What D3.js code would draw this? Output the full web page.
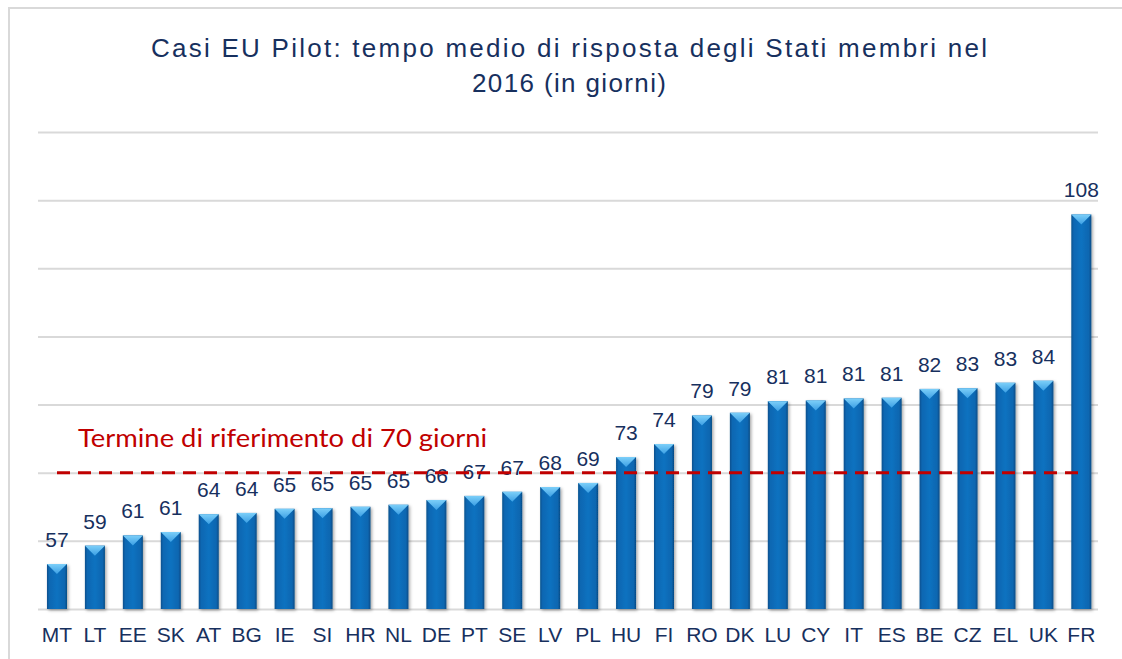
<!DOCTYPE html>
<html>
<head>
<meta charset="utf-8">
<script src="https://cdn.jsdelivr.net/npm/d3@7"></script>
<style>
  html, body { margin: 0; padding: 0; background: #fff; }
  svg { display: block; }
</style>
</head>
<body>
<div id="chart"></div>
<script>
// Stati membri, in ordine crescente
const paesi = ["MT", "LT", "EE", "SK", "AT", "BG", "IE", "SI", "HR", "NL", "DE", "PT", "SE", "LV",
  "PL", "HU", "FI", "RO", "DK", "LU", "CY", "IT", "ES", "BE", "CZ", "EL", "UK", "FR"];

// altezza delle barre (giorni)
const giorni = [56.6, 59.3, 60.8, 61.3, 63.9, 64.1, 64.7, 64.8, 65.0, 65.3, 66.0, 66.6, 67.2, 67.9,
  68.5, 72.3, 74.2, 78.4, 78.8, 80.5, 80.6, 80.9, 81.0, 82.3, 82.4, 83.2, 83.5, 107.9];

// etichette mostrate sopra le barre
const etichette = ["57", "59", "61", "61", "64", "64", "65", "65", "65", "65", "66", "67", "67", "68",
  "69", "73", "74", "79", "79", "81", "81", "81", "81", "82", "83", "83", "84", "108"];

const griglia = [50, 60, 70, 80, 90, 100, 110, 120];
const soglia = 70;

const titolo = ["Casi EU Pilot: tempo medio di risposta degli Stati membri nel", "2016 (in giorni)"];
const testoSoglia = "Termine di riferimento di 70 giorni";

const width = 1122, height = 659;
const navy = "#17305e";

let svg = d3.select("#chart").append("svg")
  .attr("width", width)
  .attr("height", height);

let defs = svg.append("defs");

// gradiente orizzontale del corpo della barra
let gBar = defs.append("linearGradient").attr("id", "gBar")
  .attr("x1", "0").attr("x2", "1").attr("y1", "0").attr("y2", "0");
gBar.append("stop").attr("offset", "0%").attr("stop-color", "#074f8c");
gBar.append("stop").attr("offset", "12%").attr("stop-color", "#0867b2");
gBar.append("stop").attr("offset", "50%").attr("stop-color", "#0b72c0");
gBar.append("stop").attr("offset", "88%").attr("stop-color", "#0866b0");
gBar.append("stop").attr("offset", "100%").attr("stop-color", "#064a84");

// triangolo chiaro in cima
let gTop = defs.append("linearGradient").attr("id", "gTop")
  .attr("x1", "0").attr("x2", "0").attr("y1", "0").attr("y2", "1");
gTop.append("stop").attr("offset", "0%").attr("stop-color", "#7ccff9");
gTop.append("stop").attr("offset", "100%").attr("stop-color", "#3c9fe4");

// ombra delle barre
let ombra = defs.append("filter").attr("id", "ombra")
  .attr("x", "-30%").attr("y", "-10%").attr("width", "160%").attr("height", "130%");
ombra.append("feDropShadow")
  .attr("dx", 1.5).attr("dy", 1.5).attr("stdDeviation", 1.5)
  .attr("flood-color", "#000").attr("flood-opacity", 0.35);

// cornice grigia
svg.append("path")
  .attr("d", "M9,659 V8 H1122")
  .attr("fill", "none")
  .attr("stroke", "#d9d9d9")
  .attr("stroke-width", 2);

// scale
let x = d3.scaleBand()
  .domain(paesi)
  .range([38, 1100.3])
  .paddingInner(0.473)
  .paddingOuter(0.2365);

let y = d3.scaleLinear()
  .domain([50, 120])
  .range([609, 132]);

// griglia orizzontale
let asseY = svg.append("g")
  .attr("transform", "translate(38,0)")
  .call(d3.axisLeft(y).tickValues(griglia).tickSize(-1060).tickFormat(""));
asseY.select(".domain").remove();
asseY.selectAll(".tick line")
  .attr("stroke", "#d9d9d9")
  .attr("stroke-width", 2);

// titolo
svg.append("g").selectAll("text")
  .data(titolo)
  .enter().append("text")
  .attr("x", 569)
  .attr("y", function (d, i) { return 57 + i * 35; })
  .attr("text-anchor", "middle")
  .attr("font-family", "'Liberation Sans', Arial, sans-serif")
  .attr("font-size", 26)
  .attr("fill", navy)
  .attr("textLength", function (d, i) { return i === 0 ? 836 : 194; })
  .attr("lengthAdjust", "spacing")
  .text(function (d) { return d; });

// barre
let barre = svg.append("g").selectAll(".barra")
  .data(paesi)
  .enter().append("g")
  .attr("class", "barra")
  .attr("filter", "url(#ombra)");

barre.append("rect")
  .attr("x", function (d) { return x(d); })
  .attr("y", function (d, i) { return y(giorni[i]); })
  .attr("width", x.bandwidth())
  .attr("height", function (d, i) { return y(50) - y(giorni[i]); })
  .attr("fill", "url(#gBar)");

barre.append("path")
  .attr("d", function (d, i) {
    let x0 = x(d), w = x.bandwidth(), t = y(giorni[i]);
    return "M" + x0 + "," + t + "H" + (x0 + w) + "L" + (x0 + w / 2) + "," + (t + 10) + "Z";
  })
  .attr("fill", "url(#gTop)");

// etichette valori
svg.append("g").selectAll("text")
  .data(paesi)
  .enter().append("text")
  .attr("x", function (d) { return x(d) + x.bandwidth() / 2; })
  .attr("y", function (d, i) { return y(giorni[i]) - 17; })
  .attr("text-anchor", "middle")
  .attr("font-family", "'Liberation Sans', Arial, sans-serif")
  .attr("font-size", 21)
  .attr("fill", navy)
  .text(function (d, i) { return etichette[i]; });

// asse x: sigle dei paesi
svg.append("g").selectAll("text")
  .data(paesi)
  .enter().append("text")
  .attr("x", function (d) { return x(d) + x.bandwidth() / 2; })
  .attr("y", 642)
  .attr("text-anchor", "middle")
  .attr("font-family", "'Liberation Sans', Arial, sans-serif")
  .attr("font-size", 21)
  .attr("fill", navy)
  .text(function (d) { return d; });

// linea tratteggiata dei 70 giorni
svg.append("line")
  .attr("x1", 57)
  .attr("x2", 1078)
  .attr("y1", y(soglia))
  .attr("y2", y(soglia))
  .attr("stroke", "#c00000")
  .attr("stroke-width", 3)
  .attr("stroke-dasharray", "13,8");

svg.append("text")
  .attr("x", 78)
  .attr("y", 447)
  .attr("font-family", "Lato, 'Open Sans', sans-serif")
  .attr("font-size", 25)
  .attr("fill", "#c00000")
  .attr("textLength", 409)
  .attr("lengthAdjust", "spacingAndGlyphs")
  .text(testoSoglia);
</script>
</body>
</html>
